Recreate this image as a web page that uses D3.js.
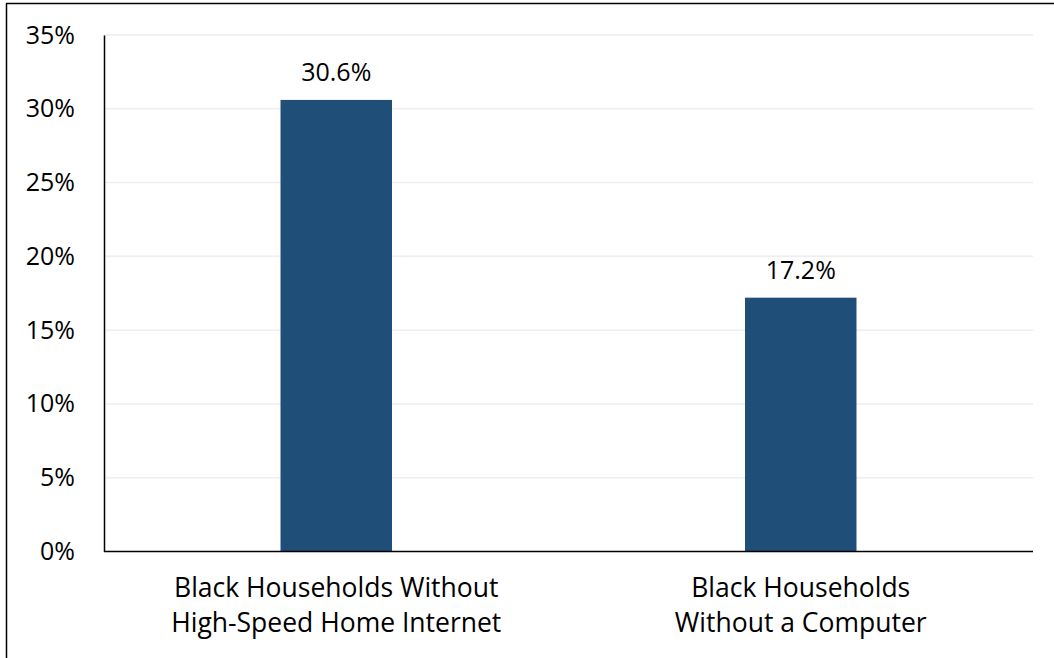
<!DOCTYPE html>
<html>
<head>
<meta charset="utf-8">
<script src="https://cdn.jsdelivr.net/npm/d3@7"></script>
<style>
  html, body { margin: 0; padding: 0; background: #fff; }
  svg { display: block; }
  text { font-family: "Open Sans", "Noto Sans", sans-serif; fill: #000; }
</style>
</head>
<body>
<svg id="chart" width="1054" height="658"></svg>
<script>
const categories = [
  ["Black Households Without", "High-Speed Home Internet"],
  ["Black Households", "Without a Computer"]
];
const values = [30.6, 17.2];
const tickValues = [0, 5, 10, 15, 20, 25, 30, 35];

const W = 1054, H = 658;
const FS = 25;
const margin = { left: 104, right: 21, top: 35, bottom: 106.5 };
const svg = d3.select("#chart");

// outer frame (left and top edges visible)
svg.append("line").attr("x1", 6.5).attr("x2", 6.5).attr("y1", 3.5).attr("y2", H)
  .attr("stroke", "#000").attr("stroke-width", 1.5);
svg.append("line").attr("x1", 6).attr("x2", W).attr("y1", 3.5).attr("y2", 3.5)
  .attr("stroke", "#000").attr("stroke-width", 1.5);

const x = d3.scaleBand().domain(d3.range(categories.length))
  .range([margin.left, W - margin.right]).paddingInner(0.76).paddingOuter(0.38);
const y = d3.scaleLinear().domain([0, 35]).range([H - margin.bottom, margin.top]);

// gridlines
svg.append("g").selectAll("line").data(tickValues.filter(d => d > 0)).join("line")
  .attr("x1", margin.left).attr("x2", W - margin.right)
  .attr("y1", d => y(d)).attr("y2", d => y(d))
  .attr("stroke", "#eeeeee").attr("stroke-width", 1.5);

// bars
svg.append("g").selectAll("rect").data(values).join("rect")
  .attr("x", (d, i) => x(i)).attr("width", x.bandwidth())
  .attr("y", d => y(d)).attr("height", d => y(0) - y(d))
  .attr("fill", "#1f4e79");

// value labels
svg.append("g").selectAll("text").data(values).join("text")
  .attr("x", (d, i) => x(i) + x.bandwidth() / 2)
  .attr("y", d => y(d) - 19)
  .attr("text-anchor", "middle").attr("font-size", FS)
  .text(d => d.toFixed(1) + "%");

// y axis
const yAxis = d3.axisLeft(y).tickValues(tickValues).tickSize(0).tickPadding(29)
  .tickFormat(d => d + "%");
const gy = svg.append("g").attr("transform", `translate(${margin.left},0)`).call(yAxis);
gy.select(".domain").attr("stroke", "#000").attr("stroke-width", 1.5);
gy.selectAll("text").attr("font-size", FS).attr("font-family", '"Open Sans", "Noto Sans", sans-serif').attr("fill", "#000");

// x axis
const xAxis = d3.axisBottom(x).tickSize(0).tickFormat("");
const gx = svg.append("g").attr("transform", `translate(0,${y(0)})`).call(xAxis);
gx.select(".domain").attr("stroke", "#000").attr("stroke-width", 1.5)
  .attr("d", `M${margin.left},0H${W - margin.right}`);

// category labels
const cl = svg.append("g").selectAll("text").data(categories).join("text")
  .attr("text-anchor", "middle").attr("font-size", 26.5)
  .attr("x", (d, i) => x(i) + x.bandwidth() / 2)
  .attr("y", y(0) + 45);
cl.selectAll("tspan").data(d => d).join("tspan")
  .attr("x", function() { return this.parentNode.getAttribute("x"); })
  .attr("dy", (d, j) => j === 0 ? 0 : 35)
  .text(d => d);
</script>
</body>
</html>
